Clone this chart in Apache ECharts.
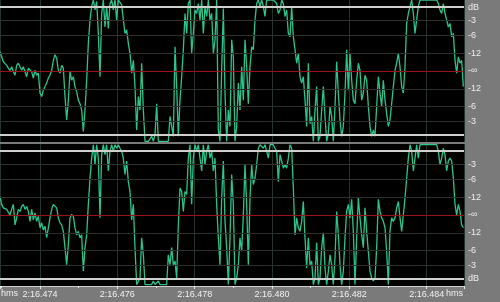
<!DOCTYPE html>
<html><head><meta charset="utf-8">
<script src="https://cdn.jsdelivr.net/npm/echarts@6/dist/echarts.min.js"></script>
<style>html,body{margin:0;padding:0;background:#7a7a7a;}#c{width:500px;height:302px;}</style>
</head><body><div id="c"></div>
<script>
// time window in ms after 2:16.474
const xMinMs = -1.0344, xMaxMs = 10.9646;
const sampleStepMs = 0.0431;
const timePrefix = '2:16.';
const timeBaseMs = 474;

// amplitude in percent of full scale, upper channel
const leftChannel = [
27,20,13,11,8,4,1,6,-1,-6,
8,11,6,1,6,4,-8,4,6,-1,
-10,1,-6,-3,-31,-36,-27,-29,-17,-10,
-6,1,15,23,18,1,-3,8,4,-36,
-69,-41,-1,-13,-8,-22,-29,-41,-46,-55,
-85,-55,-13,39,72,91,100,86,98,53,
-8,81,100,62,91,60,95,100,86,100,
72,100,98,93,72,53,58,39,25,-3,
15,-22,-83,-36,-55,11,-55,-99,-99,-99,
-99,-92,-99,-90,-46,-99,
-99,-99,-99,-99,-99,-99,-64,-78,-92,34,
-22,-92,-41,-8,30,81,53,95,100,25,
53,86,81,95,72,100,53,91,77,100,
72,81,25,44,100,-83,-99,1,88,-31,
-99,-55,-78,44,20,-99,-78,-17,-55,6,
-41,44,6,-46,6,34,30,72,95,100,
91,100,91,77,100,100,100,100,100,100,
95,81,86,100,95,77,86,53,48,91,
48,30,11,25,-8,-17,-8,-41,-78,11,
-74,
-64,-99,-55,-22,-99,-92,-55,-22,-64,-99,
-88,-50,-64,-99,-50,13,-31,-69,-92,-78,
-31,30,-27,25,-13,-41,-46,-13,11,1,
-41,-31,-6,-13,-50,-78,-92,-83,-92,-50,
-8,-31,-50,-13,-41,-60,-78,-69,-46,-22,
1,11,25,6,-22,-31,6,67,81,91,
100,81,53,72,91,100,100,100,100,100,
100,100,100,100,100,100,95,86,81,95,
81,72,62,67,48,53,15,-3,20,11,
15,-22
];

// amplitude in percent of full scale, lower channel
const rightChannel = [
26,15,10,12,8,10,0,8,15,-14,
-4,8,5,12,15,8,12,5,-9,8,
-7,3,-9,-2,-18,-11,-21,-16,-32,-18,
-4,8,15,17,10,-4,-11,-14,-23,-46,
-70,-42,-4,1,-2,-18,-28,-23,-32,-28,
-79,-46,-28,15,52,80,99,71,99,80,
-4,85,99,85,99,62,90,99,90,99,
94,99,94,90,80,57,76,47,33,-7,
15,-46,-98,-98,-89,-32,-56,-98,-98,-98,
-98,-98,-93,-98,-98,-93,
-98,-98,-98,-98,-98,-56,-70,-46,-70,-65,
-89,-14,38,33,5,33,29,80,99,15,
80,99,90,99,80,62,99,71,90,99,
80,90,62,80,15,-32,-70,24,76,-9,
-46,-98,-32,57,15,-98,-89,-70,-32,-51,
0,71,15,-70,24,71,43,52,71,94,
99,99,94,99,99,80,99,99,99,94,
90,47,85,76,66,71,66,80,99,94,
38,-28,-4,-18,-23,-9,19,-32,-75,-32,
-70,
-65,-98,-89,-39,-98,-89,-46,-25,-75,-98,
-79,-56,-70,-98,-61,5,-28,-70,-98,-79,
-32,5,15,-4,22,-23,-98,-32,24,-4,
-28,-46,10,-23,-51,-79,-89,-93,-89,-46,
22,5,-4,-9,-18,-51,-98,-23,-4,-9,
-4,10,19,-4,-23,0,24,52,80,99,
90,62,80,99,80,99,99,99,99,99,
99,99,99,99,99,99,90,71,80,94,
85,62,76,80,76,52,15,0,15,5,
-14,-18
];

const dbLabels = ['-3', '-6', '-12'];
const dbLevels = [70.8, 50.1, 25.1];
const zeroLabel = '-\u221e';
const unitLabel = 'dB';
const clipLevel = 90;

const FONT = 'Liberation Sans, Arial, sans-serif';
const labelStyle = {show: true, position: 'end', distance: 4, color: '#eeeeee', fontSize: 9, fontFamily: FONT};

function guideLines(unitOnTop) {
  const d = [];
  d.push({yAxis: clipLevel, lineStyle: {color: '#cfcfcf', width: 2, type: 'solid'},
          label: Object.assign({}, labelStyle, {formatter: unitOnTop ? unitLabel : ''})});
  dbLevels.forEach((lv, i) => {
    d.push({yAxis: lv, lineStyle: {color: '#2f2f2f', width: 1, type: 'solid'},
            label: Object.assign({}, labelStyle, {formatter: dbLabels[i]})});
    d.push({yAxis: -lv, lineStyle: {color: '#2f2f2f', width: 1, type: 'solid'},
            label: Object.assign({}, labelStyle, {formatter: dbLabels[i]})});
  });
  d.push({yAxis: 0, lineStyle: {color: '#9b1212', width: 1, type: 'solid'},
          label: Object.assign({}, labelStyle, {formatter: zeroLabel})});
  d.push({yAxis: -clipLevel, lineStyle: {color: '#cfcfcf', width: 2, type: 'solid'},
          label: Object.assign({}, labelStyle, {formatter: unitOnTop ? '' : unitLabel})});
  return d;
}

const toPoints = arr => arr.map((v, i) => [xMinMs + i * sampleStepMs, v]);

function xAxisFor(gi) {
  const vis = gi === 1;
  return {
    type: 'value', gridIndex: gi, min: xMinMs, max: xMaxMs, splitNumber: 6,
    axisLine: {show: vis, onZero: false, lineStyle: {color: '#cfcfcf', width: 1}},
    axisTick: {show: vis, length: 3, lineStyle: {color: '#e6e6e6'}},
    minorTick: {show: vis, splitNumber: 2, length: 2, lineStyle: {color: '#e6e6e6'}},
    axisLabel: {show: vis, showMinLabel: false, showMaxLabel: false, margin: 4,
                color: '#f0f0f0', fontSize: 9, fontFamily: FONT,
                formatter: v => timePrefix + (timeBaseMs + Math.round(v))},
    splitLine: {show: true, lineStyle: {color: '#24342b', width: 1}}
  };
}

const chart = echarts.init(document.getElementById('c'), null, {renderer: 'canvas'});
chart.setOption({
  animation: false,
  backgroundColor: '#7a7a7a',
  grid: [
    {left: 0, top: 0, width: 464, height: 142, show: true, backgroundColor: '#000', borderWidth: 0},
    {left: 0, top: 144, width: 464, height: 142, show: true, backgroundColor: '#000', borderWidth: 0}
  ],
  xAxis: [xAxisFor(0), xAxisFor(1)],
  yAxis: [
    {type: 'value', gridIndex: 0, min: -100, max: 100, show: false},
    {type: 'value', gridIndex: 1, min: -100, max: 100, show: false}
  ],
  graphic: [
    {type: 'text', left: 1, top: 289, style: {text: 'hms', fill: '#f0f0f0', font: '9px ' + FONT}},
    {type: 'text', right: 37, top: 289, style: {text: 'hms', fill: '#f0f0f0', font: '9px ' + FONT}}
  ],
  series: [
    {type: 'line', xAxisIndex: 0, yAxisIndex: 0, data: [], z: 1, clip: false,
     markLine: {silent: true, symbol: ['none', 'none'], animation: false, data: guideLines(true)}},
    {type: 'line', xAxisIndex: 1, yAxisIndex: 1, data: [], z: 1, clip: false,
     markLine: {silent: true, symbol: ['none', 'none'], animation: false, data: guideLines(false)}},
    {type: 'line', xAxisIndex: 0, yAxisIndex: 0, data: toPoints(leftChannel), z: 3,
     showSymbol: false, lineStyle: {color: '#2cc48a', width: 1.3}},
    {type: 'line', xAxisIndex: 1, yAxisIndex: 1, data: toPoints(rightChannel), z: 3,
     showSymbol: false, lineStyle: {color: '#2cc48a', width: 1.3}}
  ]
});
</script></body></html>
